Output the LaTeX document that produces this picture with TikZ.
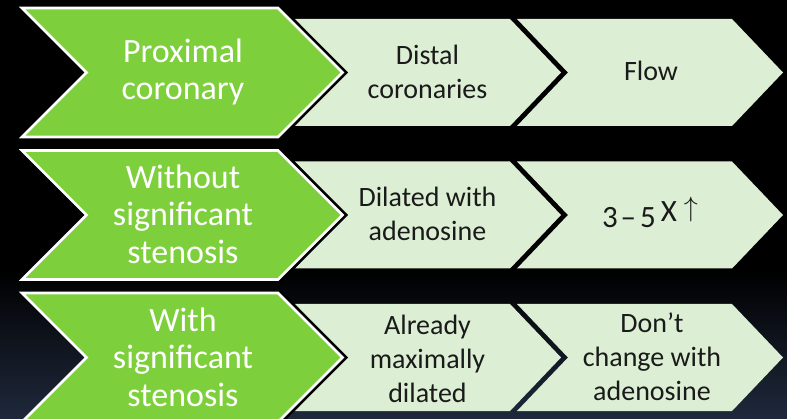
\documentclass[tikz,border=0pt]{standalone}
\usepackage{fontspec}
\usepackage{graphicx}
\setmainfont{Carlito}
\definecolor{chevgreen}{HTML}{7DCF3B}
\definecolor{chevlight}{HTML}{DCEFD4}
\definecolor{textdark}{HTML}{1A1A1A}
\definecolor{bgnavy}{HTML}{1F293C}
\tikzset{
  greenchev/.style={fill=chevgreen, draw=white, line width=2.6pt, line join=miter},
  greenshadow/.style={draw=black, line width=8pt, line join=miter},
  lightchev/.style={fill=chevlight},
  gtext/.style={text=white, font=\fontsize{34}{37.5}\selectfont, align=center, inner sep=0pt},
  ltext/.style={text=textdark, font=\fontsize{28}{34}\selectfont, align=center, inner sep=0pt},
}
\begin{document}
\begin{tikzpicture}[x=1pt,y=-1pt]
\useasboundingbox (0,0) rectangle (787,419);
\fill[black] (0,0) rectangle (787,419);
\shade[top color=black, bottom color=bgnavy] (0,270) rectangle (787,419);
\begin{scope}
\clip (0,0) rectangle (787,419);
\foreach \c in {72.5,215,357.5}{
  % light chevrons (third, then second)
  \fill[lightchev] (517,\c-53.5) -- (732,\c-53.5) -- (783,\c) -- (732,\c+53.5) -- (517,\c+53.5) -- (568,\c) -- cycle;
  \fill[lightchev] (295,\c-53.5) -- (510,\c-53.5) -- (561,\c) -- (510,\c+53.5) -- (295,\c+53.5) -- (346,\c) -- cycle;
  % green chevron
  \draw[greenshadow] (278,\c-64.5) -- (342.5,\c) -- (278,\c+64.5);
  \draw[greenchev] (22,\c-64.5) -- (278,\c-64.5) -- (342.5,\c) -- (278,\c+64.5) -- (22,\c+64.5) -- (86.5,\c) -- cycle;
}
\end{scope}
% row 1
\node[gtext] (g1) at (183,72) {Proximal\\coronary};
\node[ltext] (a1) at (427.5,72) {Distal\\coronaries};
\node[ltext] (b1) at (651,71) {Flow};
% row 2
\node[gtext] (g2) at (183,214) {Without\\significant\\stenosis};
\node[ltext] (a2) at (427.5,214) {Dilated with\\adenosine};
\node[ltext, anchor=base] (b2) at (650,227.5) {\fontsize{31}{31}\selectfont 3\kern3pt–\kern4pt5\kern5pt\raisebox{6pt}{X}\kern7pt\raisebox{11pt}{\fontsize{20.74}{21}\selectfont\scalebox{1.35}{$\uparrow$}}};
% row 3
\node[gtext] (g3) at (183,357) {With\\significant\\stenosis};
\node[ltext] (a3) at (427.5,359) {Already\\maximally\\dilated};
\node[ltext] (b3) at (652,357) {Don’t\\change with\\adenosine};
\end{tikzpicture}
\end{document}
